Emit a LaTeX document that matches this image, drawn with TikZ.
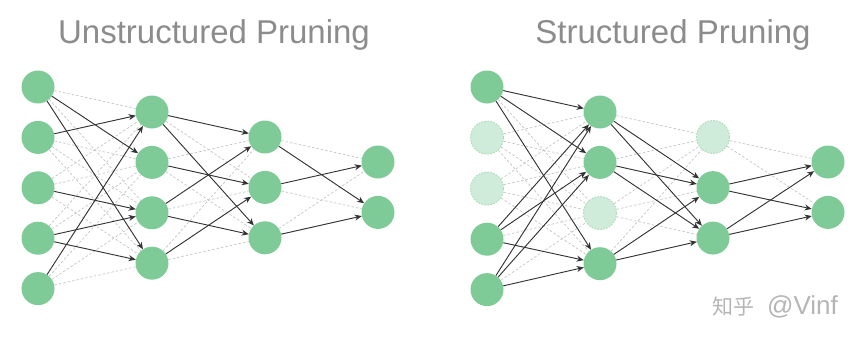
\documentclass[tikz,border=0pt]{standalone}
\usepackage{fontspec}
\setmainfont{Liberation Sans}
\newfontfamily\cjk{Noto Sans CJK SC}
\usetikzlibrary{arrows.meta, positioning}
\definecolor{neurongreen}{HTML}{7FCB97}
\definecolor{prunedgreen}{HTML}{CFEBD9}
\definecolor{prunedline}{HTML}{A9D9B6}
\definecolor{weakgray}{HTML}{C4C4C4}
\definecolor{titlegray}{HTML}{8C8C8C}
\definecolor{markgray}{HTML}{B5B5B5}
\tikzstyle{neuron} = [circle, minimum size=33pt, inner sep=0pt, fill=neurongreen]
\tikzstyle{pruned} = [circle, minimum size=33pt, inner sep=0pt, fill=prunedgreen, draw=prunedline, dash pattern=on 1.5pt off 1.5pt, line width=0.9pt]
\tikzstyle{weight} = [-{Stealth[length=7pt, width=6pt]}, line width=0.9pt, color=black!80]
\tikzstyle{cut} = [dash pattern=on 2.5pt off 2pt, line width=0.7pt, color=weakgray]
\tikzstyle{heading} = [font=\fontsize{33}{33}\selectfont, text=titlegray, anchor=base]

\begin{document}
\begin{tikzpicture}[x=1pt, y=-1pt, node distance=17pt]
    \useasboundingbox (0,0) rectangle (866,340);

    % Titles
    \node[heading] (utitle) at (214,43) {Unstructured Pruning};
    \node[heading] (stitle) at (673,43) {Structured Pruning};

    % Left net -- nodes
    \node[neuron] (u11) at (38,87) {};
    \node[neuron, below=of u11] (u12) {};
    \node[neuron, below=of u12] (u13) {};
    \node[neuron, below=of u13] (u14) {};
    \node[neuron, below=of u14] (u15) {};
    \node[neuron] (u21) at (152,112) {};
    \node[neuron, below=of u21] (u22) {};
    \node[neuron, below=of u22] (u23) {};
    \node[neuron, below=of u23] (u24) {};
    \node[neuron] (u31) at (265,137) {};
    \node[neuron, below=of u31] (u32) {};
    \node[neuron, below=of u32] (u33) {};
    \node[neuron] (u41) at (378,162) {};
    \node[neuron, below=of u41] (u42) {};

    % Right net -- nodes
    \node[neuron] (s11) at (487,87) {};
    \node[pruned, below=of s11] (s12) {};
    \node[pruned, below=of s12] (s13) {};
    \node[neuron, below=of s13] (s14) {};
    \node[neuron, below=of s14] (s15) {};
    \node[neuron] (s21) at (600,112) {};
    \node[neuron, below=of s21] (s22) {};
    \node[pruned, below=of s22] (s23) {};
    \node[neuron, below=of s23] (s24) {};
    \node[pruned] (s31) at (713,137) {};
    \node[neuron, below=of s31] (s32) {};
    \node[neuron, below=of s32] (s33) {};
    \node[neuron] (s41) at (828,162) {};
    \node[neuron, below=of s41] (s42) {};

    % Weak links (all pairs, drawn first)
    \foreach \net in {u,s} {
        \foreach \i in {1,...,5} \foreach \j in {1,...,4}
            \draw[cut] (\net1\i) -- (\net2\j);
        \foreach \i in {1,...,4} \foreach \j in {1,...,3}
            \draw[cut] (\net2\i) -- (\net3\j);
        \foreach \i in {1,...,3} \foreach \j in {1,2}
            \draw[cut] (\net3\i) -- (\net4\j);
    }

    % Left net -- kept weights
    \foreach \a/\b in {11/22, 11/24, 12/21, 13/23, 14/23, 14/24, 15/21,
                       21/31, 21/33, 22/32, 23/31, 23/33, 24/32,
                       31/42, 32/41, 33/42}
        \draw[weight] (u\a) -- (u\b);

    % Right net -- kept weights
    \foreach \i in {1,4,5} \foreach \j in {1,2,4}
        \draw[weight] (s1\i) -- (s2\j);
    \foreach \i in {1,2,4} \foreach \j in {2,3}
        \draw[weight] (s2\i) -- (s3\j);
    \foreach \i in {2,3} \foreach \j in {1,2}
        \draw[weight] (s3\i) -- (s4\j);

    % Watermark
    \node[anchor=base west, text=markgray, inner sep=0pt] (mark) at (712,314)
        {{\cjk\fontsize{21}{21}\selectfont 知乎}\hspace{13pt}{\fontsize{26}{26}\selectfont @Vinf}};
\end{tikzpicture}
\end{document}
